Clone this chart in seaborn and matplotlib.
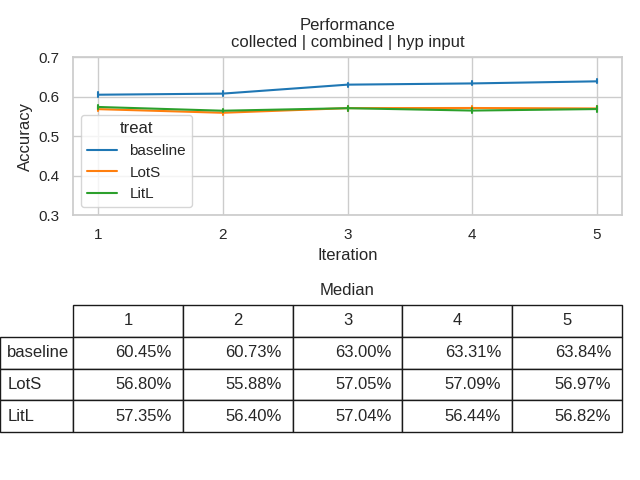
import pandas as pd
import matplotlib.pyplot as plt
import seaborn as sns

iterations = [1, 2, 3, 4, 5]
treats = ["baseline", "LotS", "LitL"]

# medians in percent (same numbers as the table)
med_baseline = [60.45, 60.73, 63.00, 63.31, 63.84]
med_lots = [56.80, 55.88, 57.05, 57.09, 56.97]
med_litl = [57.35, 56.40, 57.04, 56.44, 56.82]

# half-length of the small error bars, in percent
err_baseline = [0.6, 0.6, 0.5, 0.5, 0.5]
err_lots = [0.5, 0.5, 0.6, 0.5, 0.5]
err_litl = [0.5, 0.4, 0.6, 0.6, 0.7]

medians = {"baseline": med_baseline, "LotS": med_lots, "LitL": med_litl}
errors = {"baseline": err_baseline, "LotS": err_lots, "LitL": err_litl}

rows = []
for t in treats:
    for it, m, e in zip(iterations, medians[t], errors[t]):
        for v in (m - e, m, m + e):
            rows.append({"Iteration": it, "Accuracy": v / 100, "treat": t})
df = pd.DataFrame(rows)

sns.set_theme(style="whitegrid")
plt.rcParams["font.family"] = ["Liberation Sans", "DejaVu Sans"]

fig = plt.figure(figsize=(6.4, 4.8), dpi=100)
ax = fig.add_axes([73 / 640, 1 - 215 / 480, 549 / 640, 158 / 480])
sns.lineplot(data=df, x="Iteration", y="Accuracy", hue="treat", estimator="median",
             errorbar=("pi", 100), err_style="bars", palette="tab10", ax=ax)
ax.set_ylim(0.3, 0.7)
ax.set_xticks(iterations)
ax.set_title("Performance\ncollected | combined | hyp input", pad=7)
ax.legend(title="treat", loc="lower left")

ax2 = fig.add_axes([73 / 640, 1 - 432 / 480, 549 / 640, 127 / 480])
ax2.axis("off")
ax2.set_title("Median", pad=7)
cell_text = [[f"{v:.2f}%" for v in medians[t]] for t in treats]
lab_w = 73 / 549
tbl = ax2.table(cellText=cell_text, rowLabels=treats, colLabels=[str(i) for i in iterations],
                colWidths=[1 / 5] * 5, bbox=[0, 0, 1, 1])
tbl._autoColumns = []
for r in range(1, len(treats) + 1):
    tbl[(r, -1)].set_width(lab_w)
tbl.auto_set_font_size(False)
tbl.set_fontsize(12)

fig.savefig("out.png")
